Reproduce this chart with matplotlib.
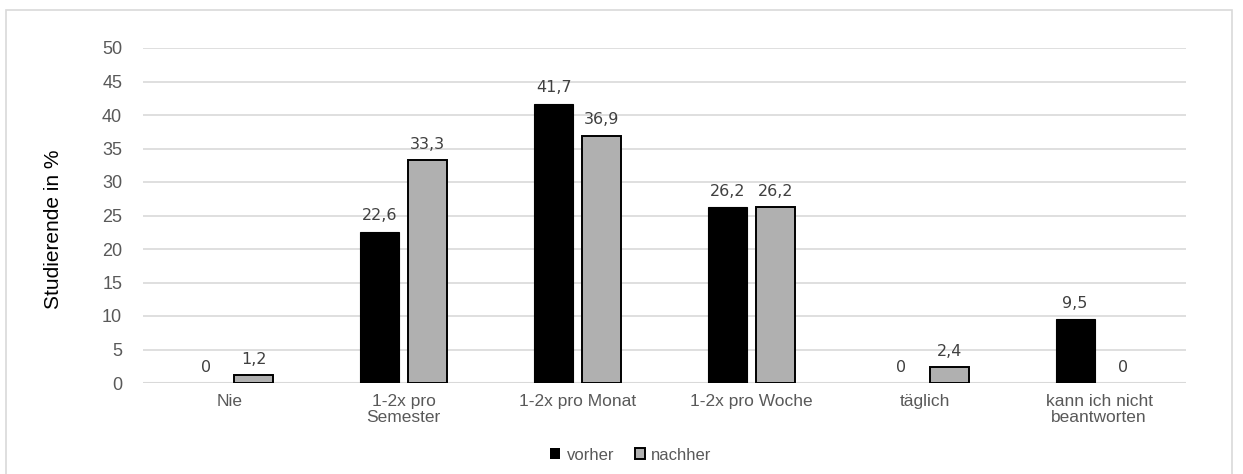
import matplotlib
matplotlib.use("Agg")
import matplotlib.pyplot as plt
import numpy as np
from matplotlib.patches import Rectangle

categories = ["Nie", "1-2x pro\nSemester", "1-2x pro Monat", "1-2x pro Woche",
              "täglich", "kann ich nicht\nbeantworten"]
vorher = [0, 22.6, 41.7, 26.2, 0, 9.5]
nachher = [1.2, 33.3, 36.9, 26.2, 2.4, 0]
series_names = ["vorher", "nachher"]
y_ticks = [0, 5, 10, 15, 20, 25, 30, 35, 40, 45, 50]

W, H = 1243, 474
fig = plt.figure(figsize=(W / 100, H / 100), dpi=100)
fig.patch.set_facecolor("white")

# outer chart frame
fig.add_artist(Rectangle((6 / W, -0.01), (1232 - 6) / W, (H - 10) / H + 0.01,
                         transform=fig.transFigure, fill=False,
                         edgecolor="#d9d9d9", linewidth=1.2))

ax = fig.add_axes([143 / W, (H - 383) / H, (1186 - 143) / W, (383 - 48) / H])
ax.set_xlim(-0.5, len(categories) - 0.5)
ax.set_ylim(0, 50)

x = np.arange(len(categories))
bw = 0.225
off = 0.138
tick_col = "#595959"


def widths(vals, lw):
    return [lw if v > 0 else 0 for v in vals]


b1 = ax.bar(x - off, vorher, bw, color="black", edgecolor="black",
            linewidth=widths(vorher, 0.8), zorder=3)
b2 = ax.bar(x + off, nachher, bw, color="#b0b0b0", edgecolor="black",
            linewidth=widths(nachher, 1.4), zorder=3)

lab_font = dict(fontsize=11.5, color="#404040", family="DejaVu Sans")
for xs, vals in ((x - off, vorher), (x + off, nachher)):
    for xi, v in zip(xs, vals):
        ax.annotate(f"{v:g}".replace(".", ","), (xi, v), xytext=(0, 6),
                    textcoords="offset points", ha="center", va="bottom", **lab_font)

ax.set_yticks(y_ticks)
ax.set_yticklabels([str(t) for t in y_ticks], family="Liberation Sans",
                   fontsize=13, color=tick_col)
ax.set_xticks(x)
ax.set_xticklabels(categories, family="Liberation Sans", fontsize=12.5,
                   color=tick_col, linespacing=1.05)
ax.tick_params(axis="both", length=0)
ax.tick_params(axis="y", pad=15)
ax.tick_params(axis="x", pad=8)
ax.grid(axis="y", color="#d9d9d9", linewidth=1.2, zorder=0)
ax.set_axisbelow(True)
for s in ax.spines.values():
    s.set_visible(False)
ax.axhline(0, color="#d9d9d9", linewidth=1.5, zorder=2)

ax.set_ylabel("Studierende in %", family="Liberation Sans", fontsize=15,
              color="black")
ax.yaxis.set_label_coords(-80 / (1186 - 143), 0.46)

leg = fig.legend([b1, b2], series_names, loc="center", bbox_to_anchor=(631 / W, (H - 455) / H),
                 ncol=2, frameon=False, handlelength=0.6, handleheight=0.6,
                 handletextpad=0.4, columnspacing=1.2,
                 prop=dict(family="Liberation Sans", size=12))
for t in leg.get_texts():
    t.set_color(tick_col)

fig.savefig("out.png", dpi=100, facecolor="white")
